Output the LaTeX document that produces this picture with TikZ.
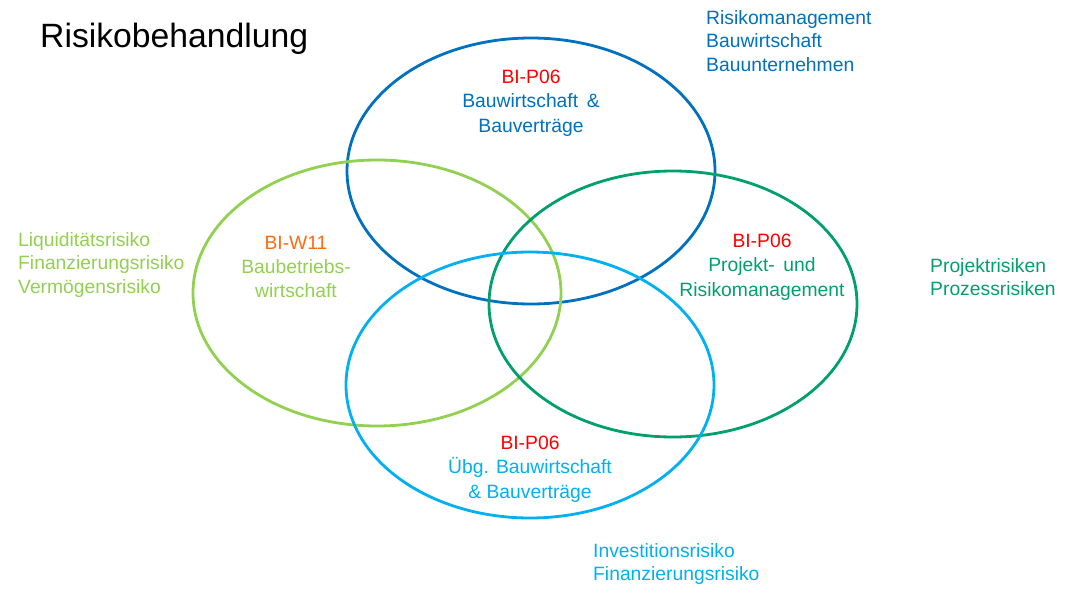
\documentclass[tikz,border=0pt]{standalone}
\usepackage{fontspec}
\setmainfont{Liberation Sans}
\usetikzlibrary{shapes.geometric}
\definecolor{cblue}{HTML}{0070C0}
\definecolor{cgreen}{HTML}{92D050}
\definecolor{cteal}{HTML}{00A06A}
\definecolor{ccyan}{HTML}{00B0F0}
\definecolor{cred}{HTML}{FF0000}
\definecolor{corange}{HTML}{FF6A10}
\tikzset{
  ring/.style={ellipse, draw, line width=2.8pt, minimum width=368pt, minimum height=266pt, inner sep=0pt},
  lbl/.style={align=center, inner sep=0pt, font=\fontsize{19.3}{24.3}\selectfont},
  lst/.style={align=left, anchor=west, inner sep=0pt, font=\fontsize{19.3}{23.7}\selectfont},
}
\begin{document}
\begin{tikzpicture}[x=1pt,y=-1pt]
\useasboundingbox (0,0) rectangle (1074,589);
\node[ring, cblue] (top) at (531,171) {};
\node[ring, cgreen] (left) at (377,293) {};
\node[ring, cteal] (right) at (673,304) {};
\node[ring, ccyan] (bottom) at (530,385) {};

\node[anchor=base west, inner sep=0pt, font=\fontsize{33.7}{40}\selectfont] (title) at (40,47) {Risikobehandlung};

\node[lst, text=cblue] (tl) at (706,41) {Risikomanagement\\Bauwirtschaft\\Bauunternehmen};
\node[lbl, text=cblue] (tlab) at (531,103) {\textcolor{cred}{BI-P06}\\Bauwirtschaft \,\&\\Bauverträge};

\node[lst, text=cgreen] (ll) at (18,265) {Liquiditätsrisiko\\Finanzierungsrisiko\\Vermögensrisiko};
\node[lbl, text=cgreen] (llab) at (296,267) {\textcolor{corange}{BI-W11}\\Baubetriebs-\\wirtschaft};

\node[lbl, text=cteal] (rlab) at (762,267) {\textcolor{cred}{BI-P06}\\Projekt- \,und\\Risikomanagement};
\node[lst, text=cteal] (rl) at (930,277) {Projektrisiken\\Prozessrisiken};

\node[lbl, text=ccyan] (blab) at (530,469) {\textcolor{cred}{BI-P06}\\Übg. Bauwirtschaft\\\& Bauverträge};
\node[lst, text=ccyan] (bl) at (593,564) {Investitionsrisiko\\Finanzierungsrisiko};
\end{tikzpicture}
\end{document}
